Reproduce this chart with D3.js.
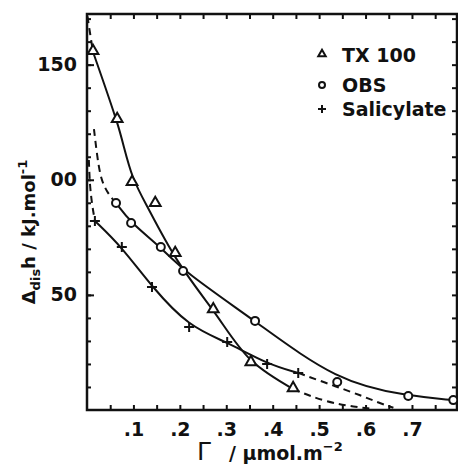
<!DOCTYPE html>
<html>
<head>
<meta charset="utf-8">
<script src="https://cdn.jsdelivr.net/npm/d3@7/dist/d3.min.js"></script>
<style>
	body { margin: 0; background: #fff; }
	svg text { font-family: 'DejaVu Sans', sans-serif; font-weight: bold; fill: #111; }
</style>
</head>
<body>
<svg id="chart" width="458" height="467"></svg>
<script>
// measured points, Gamma (umol/m2) vs dis h (kJ/mol)
var txGamma  = [0.013, 0.065, 0.097, 0.147, 0.19, 0.272, 0.353, 0.444];
var txH      = [155.5, 126, 98.6, 89.5, 67.8, 43.4, 20.4, 9.1];
var obsGamma = [0.0625, 0.095, 0.159, 0.207, 0.362, 0.539, 0.692, 0.789];
var obsH     = [89.9, 81.2, 70.8, 60.4, 38.7, 12.2, 6.1, 4.3];
var salGamma = [0.017, 0.075, 0.14, 0.22, 0.302, 0.388, 0.455];
var salH     = [82.1, 70.8, 53.4, 36.1, 29.5, 20, 16.1];

// hand-drawn TX 100 curve (runs left of the marks)
var txCurveGamma = [0.013, 0.065, 0.099, 0.136, 0.194, 0.271, 0.353, 0.444];
var txCurveH     = [155.5, 124.7, 101.2, 86, 65.2, 43.4, 21.7, 9.1];

// dashed extrapolations
var txHeadGamma  = [0.001, 0.007, 0.013];
var txHeadH      = [171, 163, 155.5];
var txTailGamma  = [0.444, 0.513, 0.58, 0.61];
var txTailH      = [9.1, 3.5, 1.3, 0.6];
var obsHeadGamma = [0.015, 0.022, 0.03, 0.045, 0.0625];
var obsHeadH     = [122, 110, 100, 94, 89.9];
var salHeadGamma = [0.004, 0.006, 0.011, 0.017];
var salHeadH     = [108.6, 97.7, 89, 82.1];
var salTailGamma = [0.455, 0.539, 0.588, 0.63, 0.66];
var salTailH     = [16.1, 10, 6.5, 3, 1];

var xTickValues = [0.1, 0.2, 0.3, 0.4, 0.5, 0.6, 0.7];
var xTickLabels = ['.1', '.2', '.3', '.4', '.5', '.6', '.7'];
var yTickValues = [150, 100, 50];
var yTickLabels = ['150', '00', '50'];
var legendNames = ['TX 100', 'OBS', 'Salicylate'];

var svg = d3.select('#chart');
var x = d3.scaleLinear().domain([0, 0.797]).range([87, 457]);
var y = d3.scaleLinear().domain([0, 172]).range([410, 14]);

var minorX = d3.range(0.05, 0.8, 0.05);
var minorY = d3.range(10, 172, 10);

function zip(a, b) { return a.map(function(v, i) { return [v, b[i]]; }); }

// inward ticks
svg.append('g').attr('transform', 'translate(0,' + y(0) + ')')
	.call(d3.axisBottom(x).tickValues(minorX).tickSize(-5).tickFormat(''));
svg.append('g').attr('transform', 'translate(0,' + y(172) + ')')
	.call(d3.axisTop(x).tickValues(minorX).tickSize(-5).tickFormat(''));
svg.append('g').attr('transform', 'translate(' + x(0) + ',0)')
	.call(d3.axisLeft(y).tickValues(minorY).tickSize(-4).tickFormat(''));
svg.append('g').attr('transform', 'translate(' + x(0) + ',0)')
	.call(d3.axisLeft(y).tickValues(yTickValues).tickSize(-7).tickFormat(''));
svg.append('g').attr('transform', 'translate(' + x(0.797) + ',0)')
	.call(d3.axisRight(y).tickValues(minorY).tickSize(-5).tickFormat(''));
svg.selectAll('.domain').remove();
svg.selectAll('.tick line').attr('stroke', '#111').attr('stroke-width', 2);

// labels
var xl = svg.append('g').attr('transform', 'translate(0,' + y(0) + ')')
	.call(d3.axisBottom(x).tickValues(xTickValues).tickSize(0).tickPadding(13)
		.tickFormat(function(d, i) { return xTickLabels[i]; }));
xl.select('.domain').remove();
xl.selectAll('text').attr('font-size', 19);

var yl = svg.append('g').attr('transform', 'translate(' + x(0) + ',0)')
	.call(d3.axisLeft(y).tickValues(yTickValues).tickSize(0).tickPadding(10)
		.tickFormat(function(d, i) { return yTickLabels[i]; }));
yl.select('.domain').remove();
yl.selectAll('text').attr('font-size', 19);

// frame
svg.append('rect')
	.attr('x', x(0)).attr('y', y(172))
	.attr('width', x(0.797) - x(0)).attr('height', y(0) - y(172))
	.attr('fill', 'none').attr('stroke', '#111').attr('stroke-width', 2.5);

// smooth fitted curves, not forced through every mark
var line = d3.line()
	.x(function(d) { return x(d[0]); })
	.y(function(d) { return y(d[1]); })
	.curve(d3.curveBasis);
var drawn = d3.line()
	.x(function(d) { return x(d[0]); })
	.y(function(d) { return y(d[1]); })
	.curve(d3.curveCatmullRom.alpha(0.5));

var solid = [zip(obsGamma, obsH), zip(salGamma, salH)];
var dashed = [zip(txHeadGamma, txHeadH), zip(txTailGamma, txTailH), zip(obsHeadGamma, obsHeadH),
	zip(salHeadGamma, salHeadH), zip(salTailGamma, salTailH)];

svg.append('path').datum(zip(txCurveGamma, txCurveH))
	.attr('d', drawn).attr('fill', 'none').attr('stroke', '#111').attr('stroke-width', 2);
svg.append('g').selectAll('path').data(solid).enter().append('path')
	.attr('d', line).attr('fill', 'none').attr('stroke', '#111').attr('stroke-width', 2);
svg.append('g').selectAll('path').data(dashed).enter().append('path')
	.attr('d', line).attr('fill', 'none').attr('stroke', '#111').attr('stroke-width', 2)
	.attr('stroke-dasharray', '7,5');

var tri = d3.symbol().type(d3.symbolTriangle);
var plus = function(s) { return 'M' + (-s) + ',0H' + s + 'M0,' + (-s) + 'V' + s; };

svg.append('g').selectAll('path').data(zip(txGamma, txH)).enter().append('path')
	.attr('transform', function(d) { return 'translate(' + x(d[0]) + ',' + (y(d[1]) - 1) + ')'; })
	.attr('d', tri.size(50)).attr('fill', '#fff').attr('stroke', '#111').attr('stroke-width', 2);
svg.append('g').selectAll('circle').data(zip(obsGamma, obsH)).enter().append('circle')
	.attr('cx', function(d) { return x(d[0]); }).attr('cy', function(d) { return y(d[1]); })
	.attr('r', 4).attr('fill', '#fff').attr('stroke', '#111').attr('stroke-width', 2);
svg.append('g').selectAll('path').data(zip(salGamma, salH)).enter().append('path')
	.attr('transform', function(d) { return 'translate(' + x(d[0]) + ',' + y(d[1]) + ')'; })
	.attr('d', plus(5)).attr('stroke', '#111').attr('stroke-width', 2);

// legend
var leg = svg.append('g');
var legY = [55, 85, 109];
leg.append('path').attr('transform', 'translate(322,' + (legY[0] - 1) + ')')
	.attr('d', tri.size(24)).attr('fill', '#fff').attr('stroke', '#111').attr('stroke-width', 2);
leg.append('circle').attr('cx', 322).attr('cy', legY[1]).attr('r', 3)
	.attr('fill', '#fff').attr('stroke', '#111').attr('stroke-width', 2);
leg.append('path').attr('transform', 'translate(322,' + legY[2] + ')')
	.attr('d', plus(4)).attr('stroke', '#111').attr('stroke-width', 2);
leg.selectAll('text').data(legendNames).enter().append('text')
	.attr('x', 342).attr('y', function(d, i) { return legY[i]; })
	.attr('dy', '0.36em').attr('font-size', 19)
	.text(function(d) { return d; });

// axis titles
var xt = svg.append('text').attr('x', 197).attr('y', 460).attr('font-size', 19);
xt.append('tspan').attr('font-size', 25).attr('font-weight', 'normal').text('Γ');
xt.append('tspan').attr('dx', 18).text('/ μmol.m');
xt.append('tspan').attr('dy', -9).attr('font-size', 13).text('−2');

var yt = svg.append('text')
	.attr('transform', 'translate(35,232) rotate(-90)')
	.attr('text-anchor', 'middle').attr('font-size', 18);
yt.append('tspan').text('Δ');
yt.append('tspan').attr('dy', 5).attr('font-size', 13).text('dis');
yt.append('tspan').attr('dy', -5).text('h / kJ.mol');
yt.append('tspan').attr('dy', -8).attr('font-size', 13).text('-1');
</script>
</body>
</html>
